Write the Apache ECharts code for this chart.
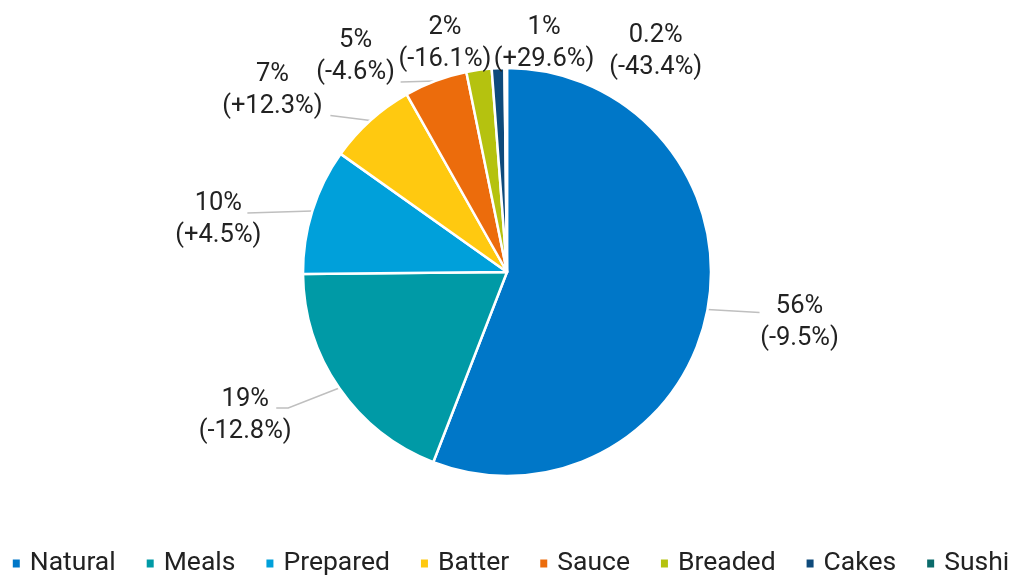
<!DOCTYPE html>
<html>
<head>
<meta charset="utf-8">
<script src="https://cdn.jsdelivr.net/npm/echarts@6/dist/echarts.min.js"></script>
<style>html,body{margin:0;padding:0;background:#fff;}#c{width:1020px;height:576px;}</style>
</head>
<body>
<div id="c"></div>
<script>
const categories = ['Natural','Meals','Prepared','Batter','Sauce','Breaded','Cakes','Sushi'];
const shares = [56, 19, 10, 7, 5, 2, 1, 0.2];
const shareLabels = ['56%','19%','10%','7%','5%','2%','1%','0.2%'];
const changes = ['-9.5%','-12.8%','+4.5%','+12.3%','-4.6%','-16.1%','+29.6%','-43.4%'];
const colors = ['#0077C8','#009AA6','#00A0DA','#FFC910','#EC6C0C','#B5C20F','#0E4A7B','#0B6B6B'];

// label placement (layout only): label-centre offset from the slice's outer mid point,
// and leader-line bend offsets (empty = no leader line)
const labelOffsets = [[92,13],[-94,28],[-94,9],[-98,-30],[-80,-24],[-34,-26],[46,-25],[150,-16]];
const lineBends = [[[52,3]],[[-51,20],[-63,20]],[[-65,2]],[[-40,-5]],[[-35,1]],[],[],[]];

const CX = 507, CY = 272, R = 204;
const total = shares.reduce((a, b) => a + b, 0);
const edgePoints = [];
let acc = 0;
shares.forEach(v => {
  const mid = (acc + v / 2) / total * Math.PI * 2;
  edgePoints.push([CX + R * Math.sin(mid), CY - R * Math.cos(mid)]);
  acc += v;
});

const chart = echarts.init(document.getElementById('c'));
chart.setOption({
  animation: false,
  color: colors,
  textStyle: {fontFamily: 'Roboto'},
  legend: {
    bottom: -1, left: 'center', width: 1020, padding: 0,
    icon: 'rect', itemWidth: 9, itemHeight: 10, itemGap: 29,
    textStyle: {fontSize: 26.5, color: '#222', fontFamily: 'Roboto', padding: [0, 0, 0, 4]},
    data: categories
  },
  series: [{
    type: 'pie',
    center: [CX, CY],
    radius: R,
    startAngle: 90,
    clockwise: true,
    avoidLabelOverlap: false,
    itemStyle: {borderColor: '#fff', borderWidth: 2.5},
    label: {
      show: true,
      fontSize: 25.5, lineHeight: 32, color: '#222', fontFamily: 'Roboto',
      align: 'center',
      formatter: p => shareLabels[p.dataIndex] + '\n(' + changes[p.dataIndex] + ')'
    },
    labelLine: {show: true, length: 20, length2: 30, lineStyle: {color: '#BFBFBF', width: 1.5}},
    labelLayout: p => {
      const i = p.dataIndex;
      const e = edgePoints[i];
      const o = labelOffsets[i];
      const res = {x: e[0] + o[0], y: e[1] + o[1], align: 'center', verticalAlign: 'middle'};
      if (lineBends[i].length) {
        res.labelLinePoints = [e].concat(lineBends[i].map(b => [e[0] + b[0], e[1] + b[1]]));
        if (res.labelLinePoints.length === 2) res.labelLinePoints.push(res.labelLinePoints[1]);
      }
      return res;
    },
    data: categories.map((c, i) => ({
      name: c, value: shares[i],
      labelLine: {show: lineBends[i].length > 0}
    }))
  }]
});
</script>
</body>
</html>
